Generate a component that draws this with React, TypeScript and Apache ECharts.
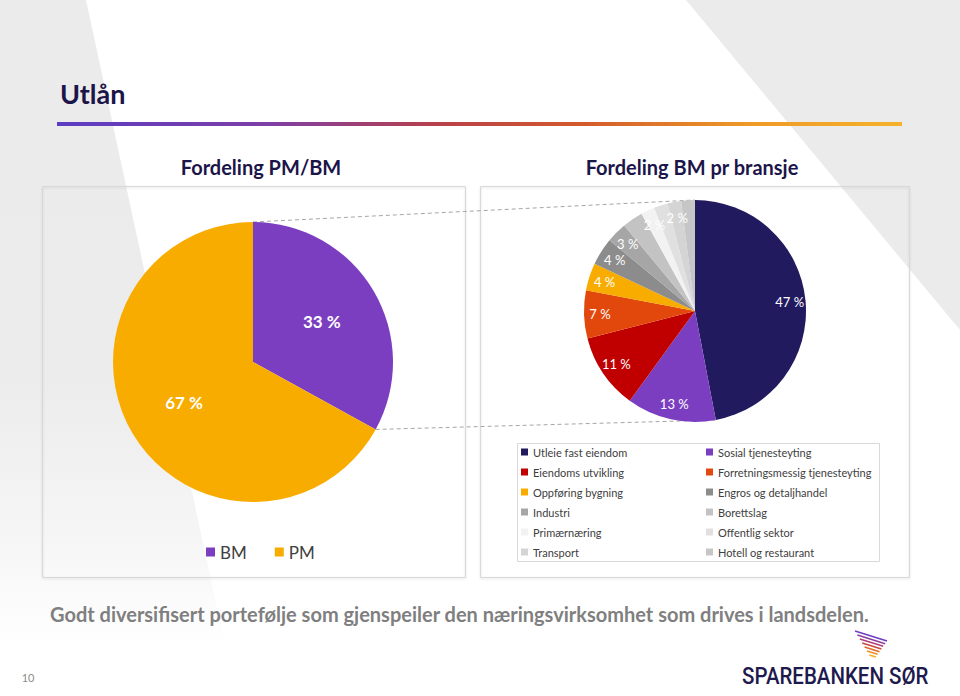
import React, { useEffect, useRef } from 'react';
import * as echarts from 'echarts';

// ---- data ----
const pmbmNames = ['BM', 'PM'];
const pmbmValues = [33, 67];
const pmbmColors = ['#7B3EC0', '#F9AC00'];

const sectorNames = [
  'Utleie fast eiendom',
  'Sosial tjenesteyting',
  'Eiendoms utvikling',
  'Forretningsmessig tjenesteyting',
  'Oppføring bygning',
  'Engros og detaljhandel',
  'Industri',
  'Borettslag',
  'Primærnæring',
  'Offentlig sektor',
  'Transport',
  'Hotell og restaurant',
];
const sectorValues = [47, 13, 11, 7, 4, 4, 3, 3, 2, 2, 2, 2];
const sectorColors = [
  '#221A5E', '#7B3EC0', '#C00000', '#E2480C', '#F9AC00', '#8C8C8C',
  '#A6A6A6', '#C3C3C3', '#F2F2F2', '#E0E0E0', '#D4D4D4', '#C6C6C6',
];

const pageTitle = 'Utlån';
const leftTitle = 'Fordeling PM/BM';
const rightTitle = 'Fordeling BM pr bransje';
const footerText = 'Godt diversifisert portefølje som gjenspeiler den næringsvirksomhet som drives i landsdelen.';
const pageNumber = '10';
const logoText = 'SPAREBANKEN SØR';

// ---- layout ----
const LP = { cx: 253, cy: 362, r: 140 };
const RP = { cx: 695, cy: 311, r: 111 };
const FONT = 'Lato, "Open Sans", sans-serif';
const NAVY = '#1C1549';

function edgePoint(p: { cx: number; cy: number; r: number }, frac: number) {
  const a = 2 * Math.PI * frac;
  return [p.cx + p.r * Math.sin(a), p.cy - p.r * Math.cos(a)];
}

export default function App() {
  const ref = useRef<HTMLDivElement>(null);
  useEffect(() => {
    document.body.style.margin = '0';
    const chart = echarts.init(ref.current!, undefined, { renderer: 'svg' });

    const pmTotal = pmbmValues.reduce((a, b) => a + b, 0);
    const secTotal = sectorValues.reduce((a, b) => a + b, 0);
    const lTop = edgePoint(LP, 0);
    const rTop = edgePoint(RP, 0);
    const lBot = edgePoint(LP, pmbmValues[0] / pmTotal);
    const rBot = edgePoint(RP, sectorValues[0] / secTotal);

    const pmData = pmbmNames.map((n, i) => ({ name: n, value: pmbmValues[i], itemStyle: { color: pmbmColors[i] } }));
    const secData = sectorNames.map((n, i) => ({ name: n, value: sectorValues[i], itemStyle: { color: sectorColors[i] } }));
    const transparent = (arr: any[]) => arr.map((d) => ({ ...d, itemStyle: { color: 'rgba(0,0,0,0)' } }));

    // logo stripes
    const A = [855, 631], B = [887, 641], C = [873, 661];
    const stripeColors = ['#6B3FC4', '#8E3F9E', '#B0407A', '#C9483F', '#DD6A2A', '#EE8E24', '#F5AE22'];
    const stripes = stripeColors.map((col, i) => {
      const t = i / 7.5;
      return {
        type: 'line',
        z: 5,
        shape: {
          x1: A[0] + t * (C[0] - A[0]), y1: A[1] + t * (C[1] - A[1]),
          x2: B[0] + t * (C[0] - B[0]), y2: B[1] + t * (C[1] - B[1]),
        },
        style: { stroke: col, lineWidth: 1.6 },
      };
    });

    const col1 = sectorNames.filter((_, i) => i % 2 === 0);
    const col2 = sectorNames.filter((_, i) => i % 2 === 1);
    const secLegendBase = {
      orient: 'vertical',
      top: 446,
      padding: 0,
      icon: 'rect',
      itemWidth: 7,
      itemHeight: 7,
      itemGap: 8,
      selectedMode: false,
      textStyle: { fontSize: 11, color: '#404040', fontFamily: FONT, lineHeight: 12 },
    };

    chart.setOption({
      animation: false,
      textStyle: { fontFamily: FONT },
      legend: [
        {
          data: pmbmNames,
          orient: 'horizontal',
          left: 206,
          top: 542,
          padding: 0,
          icon: 'rect',
          itemWidth: 9,
          itemHeight: 9,
          itemGap: 28,
          selectedMode: false,
          textStyle: { fontSize: 17, color: '#404040', fontFamily: FONT, lineHeight: 20 },
        },
        { ...secLegendBase, data: col1, left: 521 },
        { ...secLegendBase, data: col2, left: 706 },
      ],
      series: [
        {
          type: 'pie',
          center: [LP.cx, LP.cy],
          radius: [0, LP.r],
          startAngle: 90,
          data: pmData,
          label: { show: false },
          labelLine: { show: false },
          emphasis: { disabled: true },
        },
        {
          type: 'pie',
          center: [RP.cx, RP.cy],
          radius: [0, RP.r],
          startAngle: 90,
          data: secData,
          label: { show: false },
          labelLine: { show: false },
          emphasis: { disabled: true },
        },
        {
          type: 'pie',
          silent: true,
          z: 3,
          center: [LP.cx, LP.cy],
          radius: [LP.r * 0.1, LP.r],
          startAngle: 90,
          data: transparent(pmData),
          label: {
            show: true,
            position: 'inside',
            formatter: (p: any) => `${p.value} %`,
            color: '#FFFFFF',
            fontSize: 17,
            fontWeight: 'bold',
            fontFamily: FONT,
          },
          labelLine: { show: false },
          emphasis: { disabled: true },
        },
        {
          type: 'pie',
          silent: true,
          z: 3,
          center: [RP.cx, RP.cy],
          radius: [RP.r * 0.66, RP.r],
          startAngle: 90,
          data: transparent(secData),
          label: {
            show: true,
            position: 'inside',
            formatter: (p: any) => `${p.value} %`,
            color: '#FFFFFF',
            fontSize: 13,
            fontFamily: FONT,
          },
          labelLine: { show: false },
          emphasis: { disabled: true },
        },
      ],
      graphic: [
        {
          type: 'polygon',
          z: -10,
          shape: { points: [[0, 0], [86, 0], [236, 696], [0, 696]] },
          style: {
            fill: {
              type: 'linear', x: 0, y: 0, x2: 0, y2: 1,
              colorStops: [
                { offset: 0, color: '#EBEBEB' },
                { offset: 0.55, color: '#ECECEC' },
                { offset: 0.78, color: '#F6F6F6' },
                { offset: 0.93, color: '#FFFFFF' },
              ],
            },
          },
        },
        {
          type: 'polygon',
          z: -10,
          shape: { points: [[686, 0], [960, 0], [960, 330]] },
          style: { fill: '#EBEBEB' },
        },
        {
          type: 'text',
          z: 5,
          x: 60,
          y: 93,
          style: { text: pageTitle, fontSize: 27, fontWeight: 'bold', fill: NAVY, fontFamily: FONT, verticalAlign: 'middle' },
        },
        {
          type: 'rect',
          z: 5,
          shape: { x: 57, y: 122, width: 845, height: 4 },
          style: {
            fill: {
              type: 'linear', x: 0, y: 0, x2: 1, y2: 0,
              colorStops: [
                { offset: 0, color: '#5B3CC4' },
                { offset: 0.25, color: '#7E3FA6' },
                { offset: 0.45, color: '#B8404A' },
                { offset: 0.62, color: '#D35A2C' },
                { offset: 0.82, color: '#EE9A28' },
                { offset: 1, color: '#F6B22A' },
              ],
            },
          },
        },
        {
          type: 'text',
          z: 5,
          x: 261,
          y: 167,
          style: { text: leftTitle, fontSize: 20, fontWeight: 'bold', fill: NAVY, fontFamily: FONT, align: 'center', verticalAlign: 'middle' },
        },
        {
          type: 'text',
          z: 5,
          x: 692,
          y: 167,
          style: { text: rightTitle, fontSize: 20, fontWeight: 'bold', fill: NAVY, fontFamily: FONT, align: 'center', verticalAlign: 'middle' },
        },
        {
          type: 'rect',
          z: 1,
          shape: { x: 42.5, y: 186.5, width: 423, height: 391 },
          style: { fill: 'none', stroke: '#D9D9D9', lineWidth: 1, shadowColor: 'rgba(0,0,0,0.12)', shadowBlur: 2, shadowOffsetY: 1 },
        },
        {
          type: 'rect',
          z: 1,
          shape: { x: 480.5, y: 186.5, width: 429, height: 391 },
          style: { fill: 'none', stroke: '#D9D9D9', lineWidth: 1, shadowColor: 'rgba(0,0,0,0.12)', shadowBlur: 2, shadowOffsetY: 1 },
        },
        {
          type: 'rect',
          z: 1,
          shape: { x: 517.5, y: 443.5, width: 362, height: 118 },
          style: { fill: 'none', stroke: '#D9D9D9', lineWidth: 1 },
        },
        {
          type: 'line',
          z: 1,
          shape: { x1: lTop[0], y1: lTop[1], x2: rTop[0], y2: rTop[1] },
          style: { stroke: '#A6A6A6', lineWidth: 1, lineDash: [4, 3] },
        },
        {
          type: 'line',
          z: 1,
          shape: { x1: lBot[0], y1: lBot[1], x2: rBot[0], y2: rBot[1] },
          style: { stroke: '#A6A6A6', lineWidth: 1, lineDash: [4, 3] },
        },
        {
          type: 'text',
          z: 5,
          x: 50,
          y: 614,
          style: { text: footerText, fontSize: 20, fontWeight: 'bold', fill: '#7F7F7F', fontFamily: FONT, verticalAlign: 'middle' },
        },
        {
          type: 'text',
          z: 5,
          x: 28,
          y: 677,
          style: { text: pageNumber, fontSize: 11, fill: '#8C8C8C', fontFamily: FONT, align: 'center', verticalAlign: 'middle' },
        },
        {
          type: 'text',
          z: 5,
          x: 742,
          y: 676,
          scaleX: 0.89,
          style: { text: logoText, fontSize: 23, fontWeight: 500, fill: '#1E1A4D', fontFamily: 'Roboto, sans-serif', verticalAlign: 'middle' },
        },
        ...stripes,
      ],
    });
    return () => chart.dispose();
  }, []);
  return <div ref={ref} style={{ width: 960, height: 696 }} />;
}
